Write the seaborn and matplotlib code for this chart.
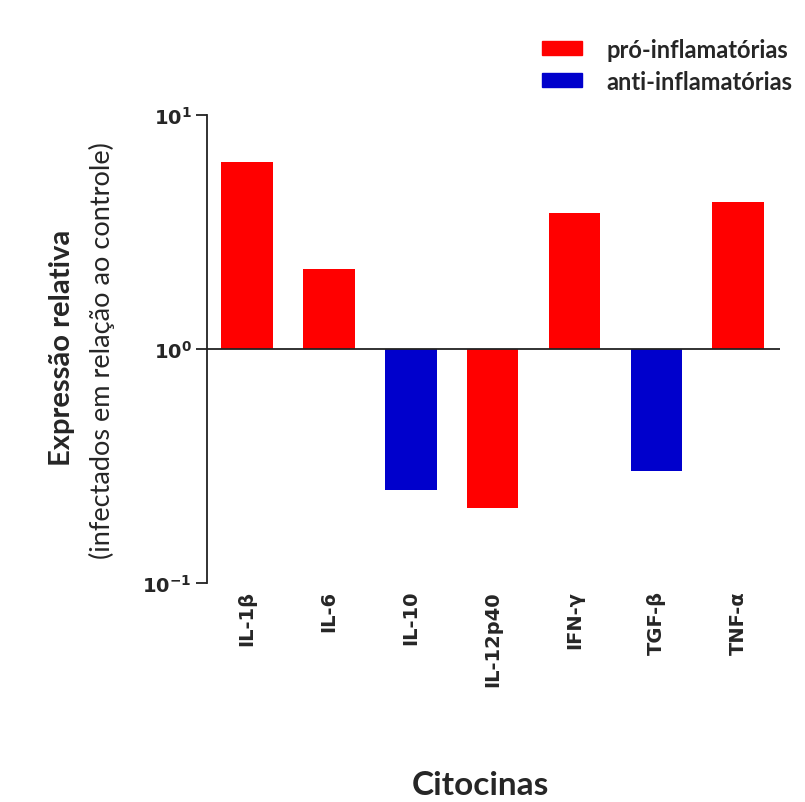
import matplotlib
matplotlib.use("Agg")
import matplotlib.pyplot as plt
from matplotlib.patches import Patch
from matplotlib.ticker import NullLocator
import pandas as pd
import seaborn as sns

# %% data
cytokines = ["IL-1β", "IL-6", "IL-10", "IL-12p40", "IFN-γ", "TGF-β", "TNF-α"]
expression = [6.3, 2.2, 0.25, 0.21, 3.8, 0.30, 4.25]
group = ["pró-inflamatórias", "pró-inflamatórias", "anti-inflamatórias",
         "pró-inflamatórias", "pró-inflamatórias", "anti-inflamatórias",
         "pró-inflamatórias"]
hue_order = ["pró-inflamatórias", "anti-inflamatórias"]
colors = {"pró-inflamatórias": "#ff0000", "anti-inflamatórias": "#0000cc"}
ytick_vals = [0.1, 1, 10]
ytick_labels = [r"$\mathbf{10^{-1}}$", r"$\mathbf{10^{0}}$", r"$\mathbf{10^{1}}$"]

df = pd.DataFrame({"citocina": cytokines, "expr": expression, "tipo": group})
# bars grow from the baseline at 1 (10^0)
df["delta"] = df["expr"] - 1

# %%
sns.set_style("white")
plt.rcParams["font.family"] = ["DejaVu Sans"]

fig = plt.figure(figsize=(8.05, 8.03), dpi=100)
ax = fig.add_axes([0.257, 0.2727, 0.712, 0.5828])

sns.barplot(data=df, x="citocina", y="delta", hue="tipo", hue_order=hue_order,
            palette=colors, saturation=1, dodge=False, width=0.63,
            errorbar=None, bottom=1, linewidth=0, legend=False, ax=ax)

ax.set_yscale("log")
ax.set_ylim(0.1, 10)
ax.set_xlim(-0.49, 6.51)
ax.set_yticks(ytick_vals, ytick_labels)
ax.yaxis.set_minor_locator(NullLocator())
ax.axhline(1, color="#222222", lw=1.3, zorder=3)

for s in ["top", "right", "bottom"]:
    ax.spines[s].set_visible(False)
ax.spines["left"].set_color("#222222")
ax.spines["left"].set_linewidth(1.3)

ax.tick_params(axis="y", left=True, length=8, width=1.3, color="#222222",
               labelsize=14, pad=3)
ax.tick_params(axis="x", bottom=False, length=0, pad=5)
for lab in ax.get_xticklabels():
    lab.set_rotation(90)
    lab.set_fontweight("bold")
    lab.set_fontsize(14)
    lab.set_va("top")
ax.set_xlabel("")
ax.set_ylabel("")

fig.text(0.077, 0.567, "Expressão relativa", rotation=90, ha="center",
         va="center", fontsize=21, fontweight="bold", family="Lato")
fig.text(0.127, 0.564, "(infectados em relação ao controle)", rotation=90,
         ha="center", va="center", fontsize=19.5, family="Lato")
fig.text(0.597, 0.022, "Citocinas", ha="center", va="center", fontsize=24,
         fontweight="bold", family="Lato")

handles = [Patch(color=colors[k], label=k) for k in hue_order]
ax.legend(handles=handles, loc="upper left", bbox_to_anchor=(0.673, 0.952),
          bbox_transform=fig.transFigure, frameon=False, borderpad=0,
          borderaxespad=0, handlelength=1.7, handleheight=0.5,
          handletextpad=1.05, labelspacing=0.38,
          prop={"family": "Lato", "weight": "bold", "size": 17})

fig.savefig("out.png", dpi=100)
